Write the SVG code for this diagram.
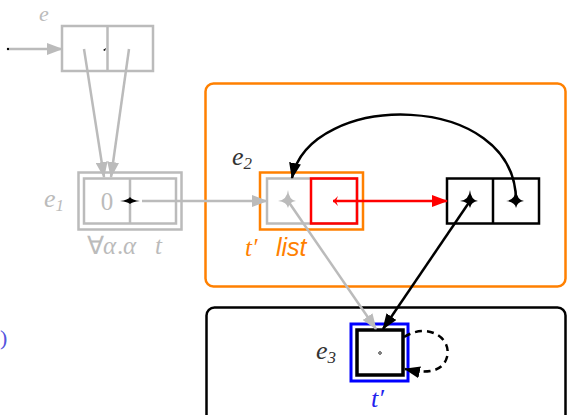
<svg xmlns="http://www.w3.org/2000/svg" width="567" height="415" viewBox="0 0 567 415">
<style>
.g{fill:none;stroke:#bbbbbb;stroke-width:2.5}
.k{fill:none;stroke:#000;stroke-width:2.5}
.lab{font-family:"Liberation Serif",serif;font-style:italic;font-size:26px}
.sub{font-size:17px}
</style>
<defs>
<marker id="ag" viewBox="0 0 16 12" markerUnits="userSpaceOnUse" markerWidth="16" markerHeight="12" refX="15" refY="6" orient="auto"><path d="M0,0 L16,6 L0,12 Z" fill="#bbbbbb"/></marker>
<marker id="ak" viewBox="0 0 16 12" markerUnits="userSpaceOnUse" markerWidth="16" markerHeight="12" refX="15" refY="6" orient="auto"><path d="M0,0 L16,6 L0,12 Z" fill="#000"/></marker>
<marker id="ar" viewBox="0 0 16 12" markerUnits="userSpaceOnUse" markerWidth="16" markerHeight="12" refX="15" refY="6" orient="auto"><path d="M0,0 L16,6 L0,12 Z" fill="#ff0000"/></marker>
<path id="star" d="M-10,0 Q-1,-1 0,-11 Q1,-1 8,0 Q1,1 0,7 Q-1,1 -10,0 Z"/>
</defs>

<g id="frame-e2">
<rect x="205.5" y="83.5" width="360" height="203" rx="8" fill="none" stroke="#ff8000" stroke-width="2.5"/>
</g>
<g id="frame-e3">
<rect x="206.5" y="307.5" width="359" height="115" rx="8" fill="none" stroke="#000" stroke-width="2.5"/>
</g>

<g id="node-e">
<text class="lab" x="39" y="21" fill="#bbbbbb" style="font-size:22px">e</text>
<rect class="g" x="62" y="26" width="91" height="45"/>
<line class="g" x1="107.5" y1="26" x2="107.5" y2="71"/>
<circle cx="8" cy="49" r="1.2" fill="#000"/>
<path d="M103,50 l3,-2 l-1,3 z" fill="#000"/>
</g>

<g id="node-e1">
<text class="lab" x="44" y="207" fill="#bbbbbb">e<tspan class="sub" dy="4">1</tspan></text>
<rect class="g" x="78.5" y="172.5" width="103" height="57"/>
<rect class="g" x="84" y="178.5" width="92" height="45"/>
<line class="g" x1="130" y1="178.5" x2="130" y2="223.5"/>
<text x="107" y="210" font-family="Liberation Serif,serif" font-size="25" fill="#bbbbbb" text-anchor="middle">0</text>
<text y="254" font-family="Liberation Serif,serif" font-size="25" fill="#bbbbbb"><tspan x="87">∀</tspan><tspan x="103" font-style="italic">α</tspan><tspan x="117">.</tspan><tspan x="123" font-style="italic">α</tspan><tspan x="155" font-style="italic">t</tspan></text>
<path d="M120,201 Q128,200 130,197 Q132,200 140,201 Q132,202 130,204 Q128,202 120,201 Z" fill="#000"/>
</g>

<g id="node-e2">
<text class="lab" x="232" y="165" fill="#333">e<tspan class="sub" dy="4">2</tspan></text>
<rect x="260" y="172.5" width="103" height="57" fill="none" stroke="#ff8000" stroke-width="2.5"/>
<rect class="g" x="267" y="178.5" width="90" height="45"/>
<rect x="311" y="178.5" width="46" height="45" fill="none" stroke="#ff0000" stroke-width="2.5"/>
<use href="#star" x="288" y="201" fill="#bbbbbb"/>
<text y="256" font-size="25" fill="#ff8000"><tspan x="245" font-family="Liberation Serif,serif" font-style="italic">t′</tspan><tspan x="276" font-family="Liberation Sans,sans-serif" font-style="italic">list</tspan></text>
</g>

<g id="node-cons">
<rect class="k" x="447" y="178.5" width="92" height="45"/>
<line class="k" x1="493" y1="178.5" x2="493" y2="223.5"/>
<use href="#star" x="470" y="201" fill="#000"/>
<use href="#star" x="516" y="201" fill="#000"/>
</g>

<g id="node-e3">
<text class="lab" x="316" y="359" fill="#333">e<tspan class="sub" dy="4">3</tspan></text>
<rect x="351" y="324" width="57" height="57" fill="none" stroke="#0000ff" stroke-width="3"/>
<rect x="357" y="330" width="46" height="45" fill="none" stroke="#000" stroke-width="3.5"/>
<circle cx="380" cy="353" r="1.3" fill="none" stroke="#000" stroke-width="0.8"/>
<text class="lab" x="371" y="407" fill="#2222ee">t′</text>
</g>

<g id="stray">
<text x="0" y="345" font-family="Liberation Serif,serif" font-size="22" fill="#5555dd">)</text>
</g>

<g id="connectors">
<line class="g" x1="9" y1="49" x2="62" y2="49" marker-end="url(#ag)"/>
<line class="g" x1="84" y1="49" x2="104" y2="177" marker-end="url(#ag)"/>
<line class="g" x1="129" y1="49" x2="111" y2="177" marker-end="url(#ag)"/>
<line class="g" x1="142" y1="201" x2="267" y2="201" marker-end="url(#ag)"/>
<line x1="333" y1="201" x2="447" y2="201" stroke="#ff0000" stroke-width="2.5" marker-end="url(#ar)"/>
<path d="M333,201 l5,-5 l-2,5 l2,5 z" fill="#ff0000"/>
<path class="k" d="M516,201 C516,90 310,90 292,178" marker-end="url(#ak)"/>
<line class="g" x1="288" y1="201" x2="376" y2="329" marker-end="url(#ag)"/>
<line class="k" x1="470" y1="201" x2="383" y2="329" marker-end="url(#ak)"/>
<path d="M404,337 C428,322 452,338 447,357 C443,372 427,374 405,369" fill="none" stroke="#000" stroke-width="2.5" stroke-dasharray="7,5" marker-end="url(#ak)"/>
</g>
</svg>
